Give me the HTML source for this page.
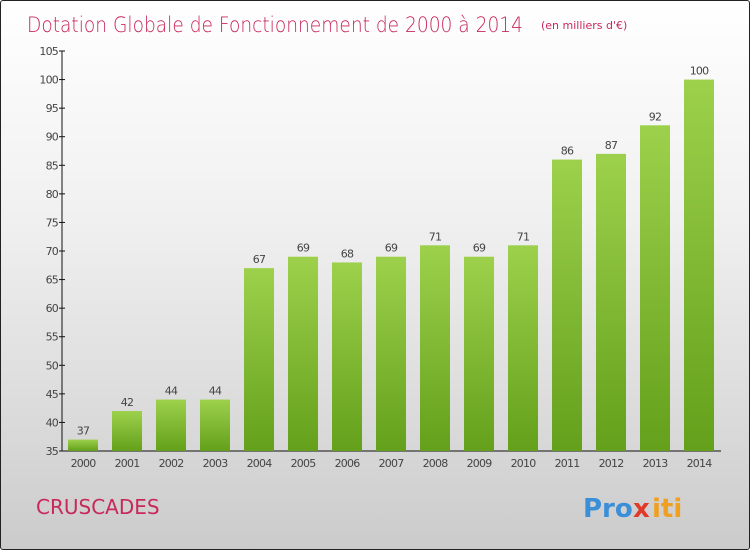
<!DOCTYPE html>
<html><head><meta charset="utf-8"><style>
body{margin:0;width:750px;height:550px;overflow:hidden}
#frame{position:absolute;left:0;top:0;width:748px;height:548px;border:1px solid #222;border-radius:3px;background:linear-gradient(#fff 0%,#f0f0f0 40%,#d8d8d8 80%,#cbcbcb 100%)}
text{font-family:"DejaVu Sans","Liberation Sans",sans-serif}
</style></head><body>
<div id="frame">
<svg id="chart" width="750" height="550">
<defs><linearGradient id="g" x1="0" y1="0" x2="0" y2="1"><stop offset="0" stop-color="#9dd14c"/><stop offset="1" stop-color="#64a01b"/></linearGradient></defs>
<text x="26" y="31" font-size="21" fill="#c8285a" font-weight="200" textLength="496" lengthAdjust="spacingAndGlyphs">Dotation Globale de Fonctionnement de 2000 à 2014</text>
<text x="540" y="28" font-size="11" fill="#c8285a">(en milliers d'€)</text>
<text x="35" y="513" font-size="20" fill="#c8285a">CRUSCADES</text>
<g font-size="26" font-weight="bold">
<text x="582" y="516" fill="#3a8fd8">Pro</text><text x="632" y="516" fill="#e03a2a">x</text><text x="651" y="516" fill="#f0a020">iti</text>
</g>
<g id="axes"></g><g id="bars"></g>
</svg></div>
<script>
const years=["2000","2001","2002","2003","2004","2005","2006","2007","2008","2009","2010","2011","2012","2013","2014"];
const values=[37,42,44,44,67,69,68,69,71,69,71,86,87,92,100];
const ticks=[35,40,45,50,55,60,65,70,75,80,85,90,95,100,105];
const NS="http://www.w3.org/2000/svg";
const y=v=>450-(v-35)*400/70;
const x=i=>82+i*44;
function mk(t,a,p){const e=document.createElementNS(NS,t);for(const k in a)e.setAttribute(k,a[k]);p.appendChild(e);return e;}
const ax=document.getElementById('axes'),bg=document.getElementById('bars');
const yl=mk('line',{x1:61,y1:50,x2:61,y2:450,stroke:'#111'},ax);


const xl=mk('line',{x1:61,y1:450,x2:720,y2:450,stroke:'#111'},ax);


ticks.forEach(t=>{
 mk('line',{x1:58,x2:64,y1:y(t),y2:y(t),stroke:'#111'},ax);
 const l=mk('text',{x:57,y:y(t)+4,'text-anchor':'end','font-size':11,fill:'#444','letter-spacing':'-0.8'},ax);
 l.textContent=t;
 
 
});
years.forEach((yr,i)=>{
 const r=mk('rect',{x:x(i)-15,y:y(values[i]),width:30,height:450-y(values[i]),fill:'url(#g)'},bg);
 
 
 const v=mk('text',{x:x(i),y:y(values[i])-5,'text-anchor':'middle','font-size':11,fill:'#444','letter-spacing':'-0.8'},bg);
 v.textContent=values[i];
 
 
 const l=mk('text',{x:x(i),y:466,'text-anchor':'middle','font-size':11,fill:'#444','letter-spacing':'-0.8'},ax);
 l.textContent=yr;
 
 
});
</script>
</body></html>
